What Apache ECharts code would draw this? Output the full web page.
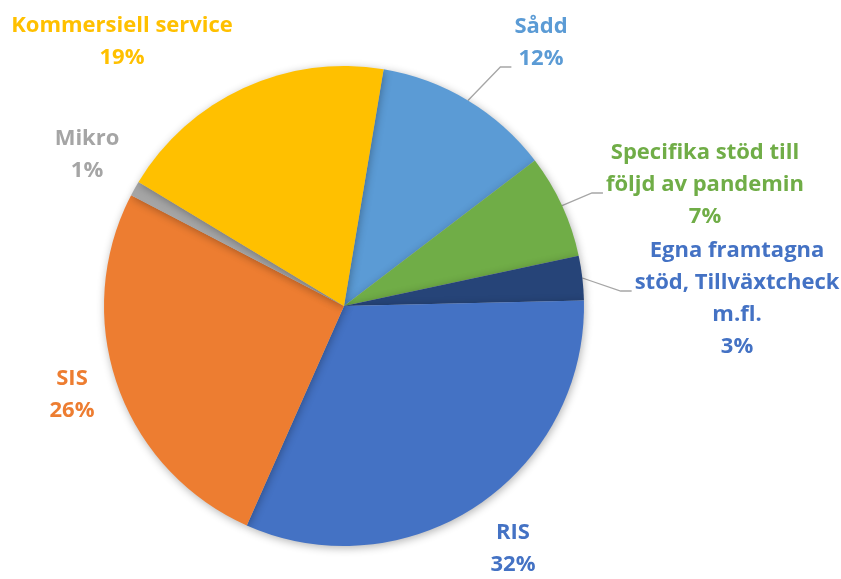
<!DOCTYPE html>
<html>
<head>
<meta charset="utf-8">
<script src="https://cdn.jsdelivr.net/npm/echarts@6/dist/echarts.min.js"></script>
<style>
  html, body { margin: 0; padding: 0; background: #fff; }
  #chart { width: 841px; height: 579px; }
</style>
</head>
<body>
<div id="chart"></div>
<script>
// slice names (clockwise, starting just right of 12 o'clock)
const categories = [
  "Sådd",
  "Specifika stöd till\nföljd av pandemin",
  "Egna framtagna\nstöd, Tillväxtcheck\nm.fl.",
  "RIS",
  "SIS",
  "Mikro",
  "Kommersiell service",
];
const shares = [12, 7, 3, 32, 26, 1, 19];
const colors = ["#5B9BD5", "#70AD47", "#264478", "#4472C4", "#ED7D31", "#A5A5A5", "#FFC000"];
const labelColors = ["#5B9BD5", "#70AD47", "#4472C4", "#4472C4", "#ED7D31", "#A5A5A5", "#FFC000"];
const withLeader = [true, true, true, false, false, false, false];

// where each label block sits (centre)
const labelSpots = [
  [541, 43], [705, 185], [737, 299], [513, 549], [72, 395], [87, 155], [122, 42],
];
const LINE_H = 32;

const myChart = echarts.init(document.getElementById("chart"));

const option = {
  animation: false,
  series: [
    {
      type: "pie",
      center: [344, 306],
      radius: 240,
      startAngle: 80.5,
      clockwise: true,
      percentPrecision: 0,
      data: categories.map((name, i) => ({
        name: name,
        value: shares[i],
        itemStyle: { color: colors[i] },
        label: { color: labelColors[i] },
        labelLine: { show: withLeader[i] },
      })),
      itemStyle: {
        shadowBlur: 8,
        shadowColor: "rgba(0,0,0,0.3)",
        shadowOffsetX: 1,
        shadowOffsetY: 2,
      },
      label: {
        show: true,
        position: "outside",
        formatter: "{b}\n{d}%",
        fontFamily: "Open Sans",
        fontWeight: "bold",
        fontSize: 22,
        lineHeight: LINE_H,
        align: "center",
        overflow: "none",
      },
      labelLine: {
        show: true,
        length: 10,
        length2: 10,
        lineStyle: { color: "#A6A6A6", width: 1.3 },
      },
      labelLayout: (params) => {
        const p = labelSpots[params.dataIndex];
        const out = { x: p[0], y: p[1], align: "center", verticalAlign: "middle" };
        const pts = params.labelLinePoints;
        if (withLeader[params.dataIndex] && pts) {
          // leader: from the pie edge, up to an elbow, then a short flat run to the label
          const r = params.labelRect;
          const left = p[0] - r.width / 2 - 3;
          const ey = p[1] - r.height / 2 + LINE_H * 1.75;
          out.labelLinePoints = [pts[0], [left - 11, ey], [left, ey]];
        }
        return out;
      },
      emphasis: { disabled: true },
    },
  ],
};

myChart.setOption(option);
window.addEventListener("resize", () => myChart.resize());
</script>
</body>
</html>
